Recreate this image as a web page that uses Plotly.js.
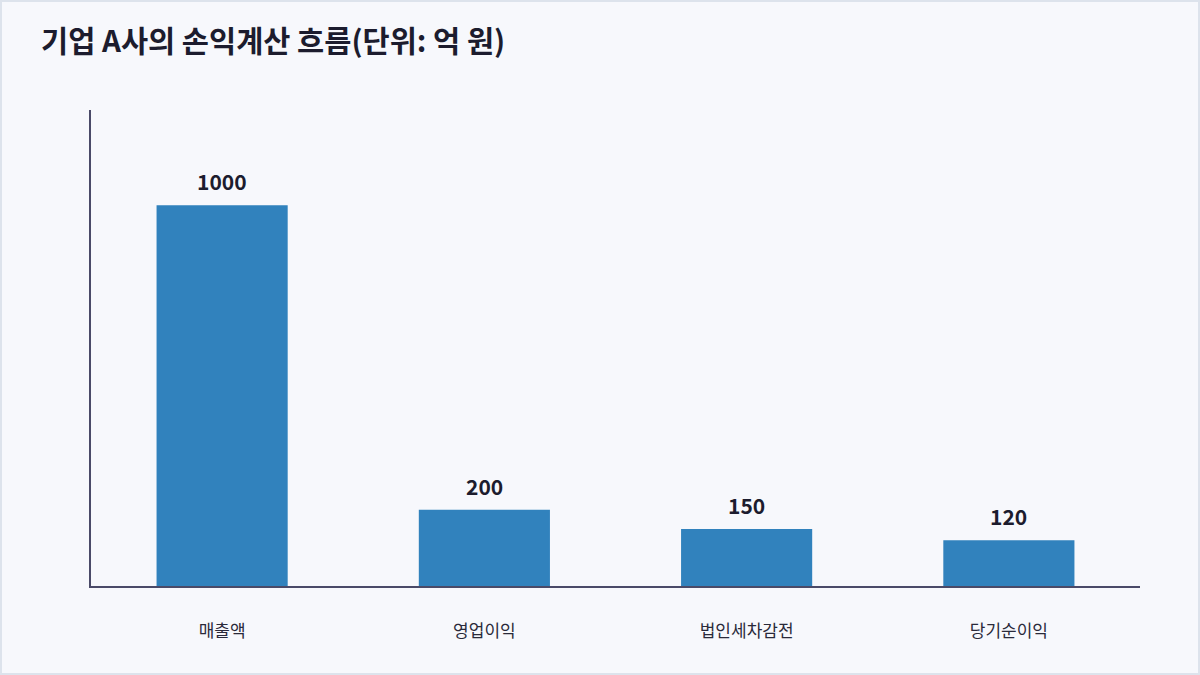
<!DOCTYPE html>
<html><head><meta charset="utf-8">
<script src="https://cdn.plot.ly/plotly-3.0.1.min.js"></script>
<style>
html,body{margin:0;padding:0;background:#f7f8fc;}
#wrap{position:relative;width:1200px;height:675px;}
#chart{width:1200px;height:675px;}
#border{position:absolute;left:0;top:0;width:1200px;height:675px;box-sizing:border-box;border:2px solid #dde3ec;pointer-events:none;}
</style></head><body>
<div id="wrap"><div id="chart"></div><div id="border"></div></div>
<script>
const categories = ['매출액','영업이익','법인세차감전','당기순이익'];
const values = [1000, 200, 150, 120];
const titleText = '기업 A사의 손익계산 흐름(단위: 억 원)';

const font = '"Noto Sans CJK KR", "Noto Sans", sans-serif';
const trace = {
  type: 'bar', x: categories, y: values,
  marker: {color: '#3182bd'}, width: 0.5,
  hoverinfo: 'none'
};
const annotations = categories.map((c, i) => ({
  x: c, y: values[i], text: String(values[i]), showarrow: false,
  yanchor: 'bottom', yshift: 7,
  font: {family: font, size: 21, color: '#1c1c2e', weight: 700}
}));
const layout = {
  width: 1200, height: 675,
  paper_bgcolor: '#f7f8fc', plot_bgcolor: '#f7f8fc',
  margin: {l: 91, r: 60, t: 110, b: 89},
  title: {text: '<b>' + titleText + '</b>', x: 0, xref: 'container', xanchor: 'left', y: 1, yref: 'container', yanchor: 'top',
          pad: {l: 41, t: 31}, font: {family: font, size: 29.5, color: '#1c1c2e'}},
  showlegend: false,
  bargap: 0.5,
  xaxis: {showline: true, linecolor: '#4a4a68', linewidth: 2, showgrid: false, ticks: '', zeroline: false,
          tickfont: {family: font, size: 17, color: '#2a2a3a'}, ticklabelstandoff: 29, fixedrange: true},
  yaxis: {range: [0, 1250], showline: true, linecolor: '#4a4a68', linewidth: 2, showgrid: false, zeroline: false,
          showticklabels: false, ticks: '', fixedrange: true},
  annotations: annotations
};
Plotly.newPlot('chart', [trace], layout, {displayModeBar: false, staticPlot: true});
</script></body></html>
